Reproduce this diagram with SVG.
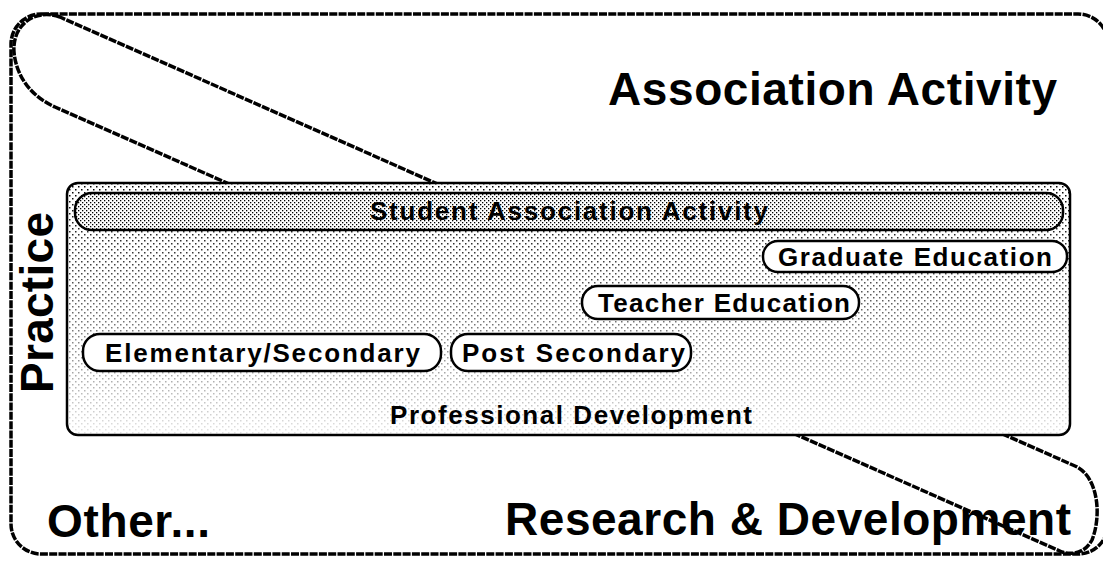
<svg xmlns="http://www.w3.org/2000/svg" width="1103" height="561" viewBox="0 0 1103 561">
  <style>
    .rough { fill: none; stroke: #000; stroke-width: 3.5; stroke-dasharray: 8 1.3; stroke-linejoin: round; stroke-linecap: butt; }
    .solid { stroke: #000; stroke-width: 2.5; }
    .big { font-family: "Liberation Sans", Arial, sans-serif; font-weight: bold; font-size: 46px; fill: #000; }
    .lbl { font-family: "Liberation Sans", Arial, sans-serif; font-weight: bold; font-size: 26px; fill: #000; }
    .pill { fill: #fff; stroke: #000; stroke-width: 2.5; }
  </style>
  <defs>
    <pattern id="dots" width="6" height="6" patternUnits="userSpaceOnUse">
      <rect x="0" y="0" width="1.5" height="1.5" fill="#000"/>
      <rect x="3" y="3" width="1.5" height="1.5" fill="#000"/>
    </pattern>
    <pattern id="dense" width="4" height="4" patternUnits="userSpaceOnUse">
      <rect x="0" y="0" width="1.3" height="1.3" fill="#000"/>
      <rect x="2" y="2" width="1.3" height="1.3" fill="#000"/>
    </pattern>
    <linearGradient id="fade" x1="0" y1="0" x2="0" y2="1">
      <stop offset="0" stop-color="#fff" stop-opacity="1"/>
      <stop offset="0.5" stop-color="#fff" stop-opacity="0.6"/>
      <stop offset="1" stop-color="#fff" stop-opacity="0.1"/>
    </linearGradient>
    <mask id="fadeMask" maskUnits="userSpaceOnUse" x="67" y="183" width="1003" height="252">
      <rect x="67" y="183" width="1003" height="252" fill="url(#fade)"/>
    </mask>
  </defs>

  <rect width="1103" height="561" fill="#fff"/>

  <g id="frame">
    <rect class="rough" x="11" y="14" width="1097" height="540" rx="30" ry="30"/>
  </g>

  <g id="band">
    <path class="rough" d="M 60,17 C 35,8 12,25 14,52 C 16,75 30,96 55,107 L 1062,552 C 1075,556 1086,551 1092,540 C 1102,515 1098,476 1075,466 Z"/>
  </g>

  <g id="practice-area">
    <rect x="67" y="183" width="1003" height="252" rx="11" fill="#fff"/>
    <rect x="67" y="183" width="1003" height="252" rx="11" fill="url(#dots)" mask="url(#fadeMask)"/>
    <rect x="67" y="183" width="1003" height="252" rx="11" fill="none" class="solid"/>
    <text class="lbl" x="390" y="424" textLength="362" lengthAdjust="spacing">Professional Development</text>
  </g>

  <g id="student-association">
    <rect x="75" y="193" width="988" height="37" rx="17" fill="#fff"/>
    <rect x="75" y="193" width="988" height="37" rx="17" fill="url(#dense)" class="solid"/>
    <text class="lbl" x="370" y="220" textLength="398" lengthAdjust="spacing">Student Association Activity</text>
  </g>

  <g id="graduate-education">
    <rect class="pill" x="763" y="241" width="304" height="31" rx="15"/>
    <text class="lbl" x="778" y="266" textLength="274" lengthAdjust="spacing">Graduate Education</text>
  </g>

  <g id="teacher-education">
    <rect class="pill" x="582" y="286" width="277" height="33" rx="16"/>
    <text class="lbl" x="598" y="312" textLength="252" lengthAdjust="spacing">Teacher Education</text>
  </g>

  <g id="elementary-secondary">
    <rect class="pill" x="83" y="334" width="358" height="37" rx="17"/>
    <text class="lbl" x="105" y="362" textLength="315" lengthAdjust="spacing">Elementary/Secondary</text>
  </g>

  <g id="post-secondary">
    <rect class="pill" x="451" y="334" width="240" height="37" rx="17"/>
    <text class="lbl" x="462" y="362" textLength="223" lengthAdjust="spacing">Post Secondary</text>
  </g>

  <g id="titles">
    <text class="big" x="608" y="105" textLength="449" lengthAdjust="spacing">Association Activity</text>
    <text class="big" transform="translate(53,393) rotate(-90)" x="0" y="0" textLength="181" lengthAdjust="spacing">Practice</text>
    <text class="big" x="47" y="537" textLength="163" lengthAdjust="spacing">Other...</text>
    <text class="big" x="505" y="535" textLength="566" lengthAdjust="spacing">Research &amp; Development</text>
  </g>
</svg>
